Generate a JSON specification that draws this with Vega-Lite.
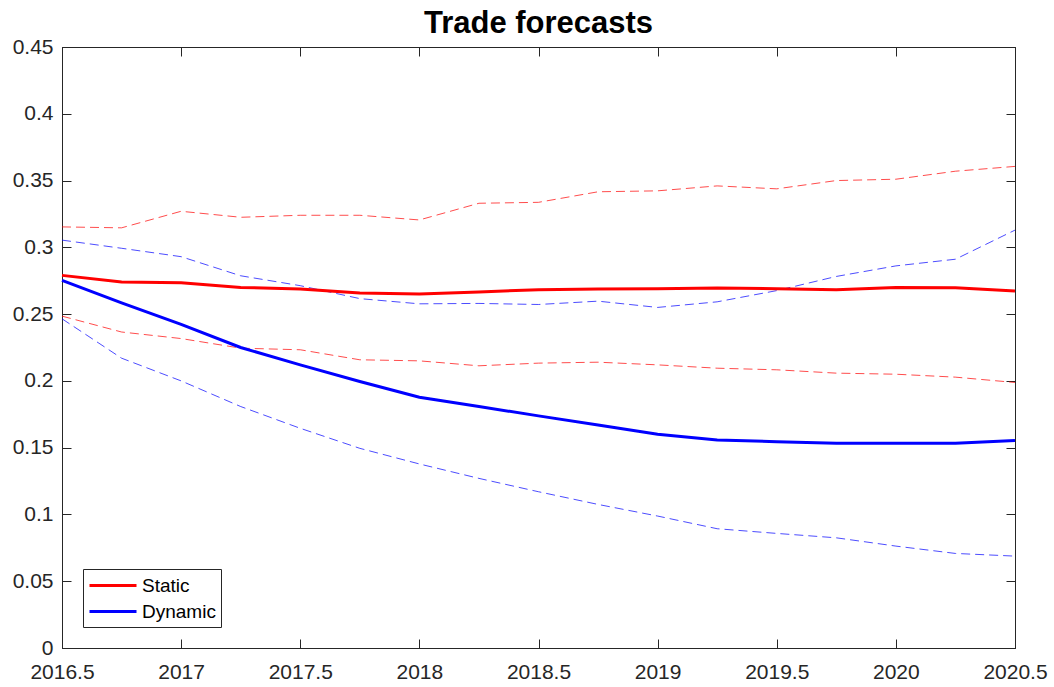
{
  "$schema": "https://vega.github.io/schema/vega-lite/v6.json",
  "width": 953,
  "height": 601,
  "autosize": "none",
  "padding": {"left": 62, "top": 47, "right": 39, "bottom": 39},
  "background": "white",
  "title": {"text": "Trade forecasts", "fontSize": 31, "font": "Liberation Sans", "fontWeight": "bold", "color": "#000000", "anchor": "middle", "baseline": "alphabetic", "offset": -28, "frame": "group"},
  "config": {
    "view": {"stroke": "#262626", "strokeWidth": 1},
    "axis": {"grid": false, "labelFont": "Liberation Sans", "labelFontSize": 21, "labelColor": "#262626", "domainColor": "#262626", "tickColor": "#262626", "tickSize": -9, "tickWidth": 1, "labelFlush": false, "labelOverlap": false}
  },
  "resolve": {"scale": {"color": "independent"}, "axis": {"x": "independent", "y": "independent"}},
  "data": {"values": [
    {"t":2016.5,"s":"Static","b":"mid","v":0.279},{"t":2016.75,"s":"Static","b":"mid","v":0.274},{"t":2017,"s":"Static","b":"mid","v":0.2735},{"t":2017.25,"s":"Static","b":"mid","v":0.270},{"t":2017.5,"s":"Static","b":"mid","v":0.2688},{"t":2017.75,"s":"Static","b":"mid","v":0.2658},{"t":2018,"s":"Static","b":"mid","v":0.2651},{"t":2018.25,"s":"Static","b":"mid","v":0.2666},{"t":2018.5,"s":"Static","b":"mid","v":0.2683},{"t":2018.75,"s":"Static","b":"mid","v":0.2688},{"t":2019,"s":"Static","b":"mid","v":0.269},{"t":2019.25,"s":"Static","b":"mid","v":0.2695},{"t":2019.5,"s":"Static","b":"mid","v":0.269},{"t":2019.75,"s":"Static","b":"mid","v":0.2683},{"t":2020,"s":"Static","b":"mid","v":0.270},{"t":2020.25,"s":"Static","b":"mid","v":0.2698},{"t":2020.5,"s":"Static","b":"mid","v":0.2673},
    {"t":2016.5,"s":"Static","b":"hi","v":0.3153},{"t":2016.75,"s":"Static","b":"hi","v":0.3146},{"t":2017,"s":"Static","b":"hi","v":0.327},{"t":2017.25,"s":"Static","b":"hi","v":0.3225},{"t":2017.5,"s":"Static","b":"hi","v":0.324},{"t":2017.75,"s":"Static","b":"hi","v":0.324},{"t":2018,"s":"Static","b":"hi","v":0.3205},{"t":2018.25,"s":"Static","b":"hi","v":0.333},{"t":2018.5,"s":"Static","b":"hi","v":0.3337},{"t":2018.75,"s":"Static","b":"hi","v":0.3416},{"t":2019,"s":"Static","b":"hi","v":0.3423},{"t":2019.25,"s":"Static","b":"hi","v":0.346},{"t":2019.5,"s":"Static","b":"hi","v":0.3438},{"t":2019.75,"s":"Static","b":"hi","v":0.350},{"t":2020,"s":"Static","b":"hi","v":0.351},{"t":2020.25,"s":"Static","b":"hi","v":0.357},{"t":2020.5,"s":"Static","b":"hi","v":0.3606},
    {"t":2016.5,"s":"Static","b":"lo","v":0.2485},{"t":2016.75,"s":"Static","b":"lo","v":0.2366},{"t":2017,"s":"Static","b":"lo","v":0.2317},{"t":2017.25,"s":"Static","b":"lo","v":0.2245},{"t":2017.5,"s":"Static","b":"lo","v":0.2233},{"t":2017.75,"s":"Static","b":"lo","v":0.2158},{"t":2018,"s":"Static","b":"lo","v":0.215},{"t":2018.25,"s":"Static","b":"lo","v":0.2113},{"t":2018.5,"s":"Static","b":"lo","v":0.2133},{"t":2018.75,"s":"Static","b":"lo","v":0.214},{"t":2019,"s":"Static","b":"lo","v":0.212},{"t":2019.25,"s":"Static","b":"lo","v":0.2095},{"t":2019.5,"s":"Static","b":"lo","v":0.2083},{"t":2019.75,"s":"Static","b":"lo","v":0.2058},{"t":2020,"s":"Static","b":"lo","v":0.205},{"t":2020.25,"s":"Static","b":"lo","v":0.2028},{"t":2020.5,"s":"Static","b":"lo","v":0.1988},
    {"t":2016.5,"s":"Dynamic","b":"mid","v":0.2752},{"t":2016.75,"s":"Dynamic","b":"mid","v":0.2584},{"t":2017,"s":"Dynamic","b":"mid","v":0.2423},{"t":2017.25,"s":"Dynamic","b":"mid","v":0.225},{"t":2017.5,"s":"Dynamic","b":"mid","v":0.212},{"t":2017.75,"s":"Dynamic","b":"mid","v":0.1995},{"t":2018,"s":"Dynamic","b":"mid","v":0.1878},{"t":2018.25,"s":"Dynamic","b":"mid","v":0.1808},{"t":2018.5,"s":"Dynamic","b":"mid","v":0.1738},{"t":2018.75,"s":"Dynamic","b":"mid","v":0.167},{"t":2019,"s":"Dynamic","b":"mid","v":0.16},{"t":2019.25,"s":"Dynamic","b":"mid","v":0.1558},{"t":2019.5,"s":"Dynamic","b":"mid","v":0.1545},{"t":2019.75,"s":"Dynamic","b":"mid","v":0.1533},{"t":2020,"s":"Dynamic","b":"mid","v":0.1533},{"t":2020.25,"s":"Dynamic","b":"mid","v":0.1533},{"t":2020.5,"s":"Dynamic","b":"mid","v":0.1553},
    {"t":2016.5,"s":"Dynamic","b":"hi","v":0.3054},{"t":2016.75,"s":"Dynamic","b":"hi","v":0.2993},{"t":2017,"s":"Dynamic","b":"hi","v":0.293},{"t":2017.25,"s":"Dynamic","b":"hi","v":0.2787},{"t":2017.5,"s":"Dynamic","b":"hi","v":0.2713},{"t":2017.75,"s":"Dynamic","b":"hi","v":0.2616},{"t":2018,"s":"Dynamic","b":"hi","v":0.2577},{"t":2018.25,"s":"Dynamic","b":"hi","v":0.258},{"t":2018.5,"s":"Dynamic","b":"hi","v":0.2572},{"t":2018.75,"s":"Dynamic","b":"hi","v":0.2597},{"t":2019,"s":"Dynamic","b":"hi","v":0.255},{"t":2019.25,"s":"Dynamic","b":"hi","v":0.2592},{"t":2019.5,"s":"Dynamic","b":"hi","v":0.2676},{"t":2019.75,"s":"Dynamic","b":"hi","v":0.2782},{"t":2020,"s":"Dynamic","b":"hi","v":0.2861},{"t":2020.25,"s":"Dynamic","b":"hi","v":0.2911},{"t":2020.5,"s":"Dynamic","b":"hi","v":0.3129},
    {"t":2016.5,"s":"Dynamic","b":"lo","v":0.2465},{"t":2016.75,"s":"Dynamic","b":"lo","v":0.217},{"t":2017,"s":"Dynamic","b":"lo","v":0.2},{"t":2017.25,"s":"Dynamic","b":"lo","v":0.1808},{"t":2017.5,"s":"Dynamic","b":"lo","v":0.1645},{"t":2017.75,"s":"Dynamic","b":"lo","v":0.1495},{"t":2018,"s":"Dynamic","b":"lo","v":0.1378},{"t":2018.25,"s":"Dynamic","b":"lo","v":0.127},{"t":2018.5,"s":"Dynamic","b":"lo","v":0.117},{"t":2018.75,"s":"Dynamic","b":"lo","v":0.1075},{"t":2019,"s":"Dynamic","b":"lo","v":0.0988},{"t":2019.25,"s":"Dynamic","b":"lo","v":0.0893},{"t":2019.5,"s":"Dynamic","b":"lo","v":0.0858},{"t":2019.75,"s":"Dynamic","b":"lo","v":0.0825},{"t":2020,"s":"Dynamic","b":"lo","v":0.0763},{"t":2020.25,"s":"Dynamic","b":"lo","v":0.0708},{"t":2020.5,"s":"Dynamic","b":"lo","v":0.0688}
  ]},
  "layer": [
    {
      "transform": [{"filter": "datum.b != 'mid'"}],
      "mark": {"type": "line", "strokeWidth": 1, "strokeDash": [9, 5], "opacity": 0.7},
      "encoding": {
        "x": {"field": "t", "type": "quantitative", "scale": {"domain": [2016.5, 2020.5], "nice": false, "zero": false},
          "axis": {"title": null, "values": [2016.5, 2017, 2017.5, 2018, 2018.5, 2019, 2019.5, 2020, 2020.5], "format": "~g", "labelPadding": 22}},
        "y": {"field": "v", "type": "quantitative", "scale": {"domain": [0, 0.45], "nice": false},
          "axis": {"title": null, "values": [0, 0.05, 0.1, 0.15, 0.2, 0.25, 0.3, 0.35, 0.4, 0.45], "format": "~g", "labelPadding": 18}},
        "color": {"field": "s", "type": "nominal", "scale": {"domain": ["Static", "Dynamic"], "range": ["#ff0000", "#0000ff"]}, "legend": null},
        "detail": {"field": "b"}
      }
    },
    {
      "transform": [{"filter": "datum.b == 'mid'"}],
      "mark": {"type": "line", "strokeWidth": 3},
      "encoding": {
        "x": {"field": "t", "type": "quantitative", "axis": {"orient": "top", "title": null, "labels": false, "values": [2016.5, 2017, 2017.5, 2018, 2018.5, 2019, 2019.5, 2020, 2020.5]}},
        "y": {"field": "v", "type": "quantitative", "axis": {"orient": "right", "title": null, "labels": false, "values": [0, 0.05, 0.1, 0.15, 0.2, 0.25, 0.3, 0.35, 0.4, 0.45]}},
        "color": {"field": "s", "type": "nominal", "scale": {"domain": ["Static", "Dynamic"], "range": ["#ff0000", "#0000ff"]},
          "legend": {"title": null, "orient": "bottom-left", "offset": 21, "symbolType": "M-1,0H3.7", "symbolStrokeWidth": 3, "symbolSize": 400, "labelFont": "Liberation Sans", "labelFontSize": 19, "labelColor": "#000000", "strokeColor": "#262626", "fillColor": "#ffffff", "padding": 5, "labelOffset": 31, "rowPadding": 4}
        }
      }
    }
  ]
}
